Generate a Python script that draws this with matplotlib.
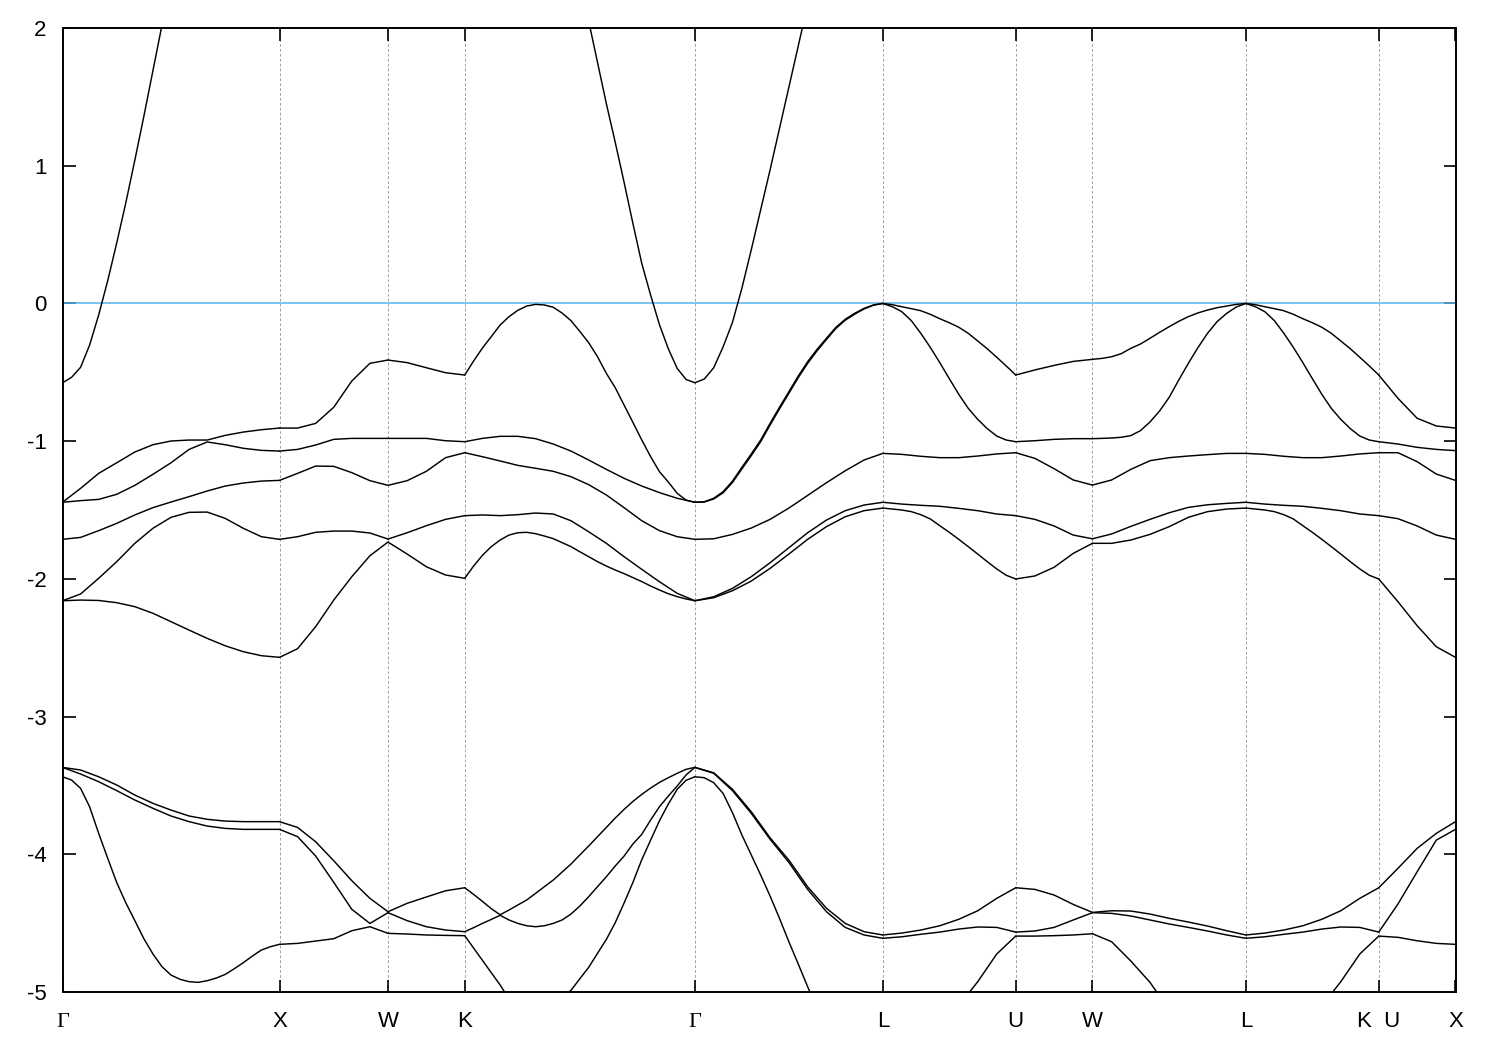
import numpy as np
import matplotlib
matplotlib.use("Agg")
import matplotlib.pyplot as plt

# ---------------- data ----------------
POINT_LABELS = ["Γ", "X", "W", "K", "Γ", "L", "U", "W", "L", "K  U", "X"]
# path segment lengths (units of 2*pi/a): G-X, X-W, W-K, K-G, G-L, L-U, U-W, W-L, L-K, U-X
SEG_LENGTHS = [1.0, 0.5, 0.35355, 1.06066, 0.86603, 0.61237, 0.35355, 0.70711, 0.61237, 0.35355]
Y_TICKS = [-5, -4, -3, -2, -1, 0, 1, 2]
Y_TICK_LABELS = ["-5", "-4", "-3", "-2", "-1", "0", "1", "2"]
E_FERMI = 0.0

# energies (eV) per band; one list per path segment, evenly spaced in k, endpoints included
BAND_1 = [
    [-3.437, -3.461, -3.521, -3.655, -3.848, -4.029, -4.206, -4.352, -4.482, -4.613, -4.724, -4.816, -4.877,
     -4.908, -4.925, -4.930, -4.918, -4.899, -4.872, -4.831, -4.787, -4.739, -4.695, -4.671, -4.654],
    [-4.654, -4.647, -4.630, -4.613, -4.555, -4.526, -4.574],
    [-4.574, -4.579, -4.586, -4.589, -4.591],
    [-4.591, -4.681, -4.770, -4.860, -4.949, -5.05, -5.11, -5.15, -5.17, -5.15, -5.11, -5.04, -4.988, -4.904,
     -4.821, -4.719, -4.618, -4.497, -4.354, -4.204, -4.039, -3.897, -3.756, -3.635, -3.528, -3.463, -3.437],
    [-3.437, -3.444, -3.480, -3.558, -3.698, -3.860, -4.005, -4.151, -4.303, -4.465, -4.635, -4.797, -4.962,
     -5.12, -5.25, -5.36, -5.45, -5.52, -5.56, -5.59, -5.6],
    [-5.6, -5.58, -5.5, -5.38, -5.1, -4.925, -4.724, -4.594],
    [-4.594, -4.594, -4.591, -4.586, -4.577],
    [-4.577, -4.635, -4.775, -4.930, -5.13, -5.3, -5.45, -5.55, -5.6],
    [-5.6, -5.58, -5.5, -5.38, -5.1, -4.925, -4.724, -4.594],
    [-4.594, -4.603, -4.628, -4.647, -4.654],
]
BAND_2 = [
    [-3.369, -3.417, -3.473, -3.538, -3.606, -3.666, -3.722, -3.763, -3.795, -3.812, -3.819, -3.819, -3.819],
    [-3.819, -3.872, -4.013, -4.204, -4.400, -4.502, -4.424],
    [-4.424, -4.482, -4.526, -4.550, -4.562],
    [-4.562, -4.533, -4.502, -4.473, -4.443, -4.477, -4.502, -4.519, -4.526, -4.519, -4.502, -4.477, -4.434,
     -4.376, -4.308, -4.235, -4.163, -4.085, -4.013, -3.925, -3.855, -3.751, -3.654, -3.577, -3.504, -3.424, -3.369],
    [-3.369, -3.412, -3.538, -3.703, -3.891, -4.059, -4.255, -4.417, -4.531, -4.586, -4.610],
    [-4.610, -4.599, -4.581, -4.565, -4.543, -4.528, -4.531, -4.565],
    [-4.565, -4.557, -4.531, -4.477, -4.424],
    [-4.424, -4.429, -4.448, -4.477, -4.506, -4.531, -4.557, -4.586, -4.610],
    [-4.610, -4.599, -4.581, -4.565, -4.543, -4.528, -4.531, -4.565],
    [-4.565, -4.361, -4.127, -3.897, -3.819],
]
BAND_3 = [
    [-3.369, -3.388, -3.437, -3.497, -3.570, -3.630, -3.679, -3.722, -3.746, -3.759, -3.763, -3.763, -3.763],
    [-3.763, -3.805, -3.909, -4.047, -4.192, -4.320, -4.417],
    [-4.417, -4.356, -4.310, -4.265, -4.243],
    [-4.243, -4.291, -4.342, -4.395, -4.439, -4.405, -4.368, -4.332, -4.284, -4.235, -4.187, -4.129, -4.071,
     -4.005, -3.940, -3.872, -3.805, -3.737, -3.674, -3.616, -3.565, -3.519, -3.478, -3.444, -3.412, -3.383, -3.369],
    [-3.369, -3.408, -3.528, -3.691, -3.880, -4.042, -4.236, -4.392, -4.502, -4.562, -4.586],
    [-4.586, -4.572, -4.550, -4.519, -4.472, -4.410, -4.320, -4.243],
    [-4.243, -4.255, -4.296, -4.364, -4.422],
    [-4.422, -4.410, -4.412, -4.434, -4.465, -4.492, -4.521, -4.555, -4.586],
    [-4.586, -4.572, -4.550, -4.519, -4.472, -4.410, -4.320, -4.243],
    [-4.243, -4.102, -3.957, -3.848, -3.763],
]
BAND_4 = [
    [-2.159, -2.154, -2.157, -2.173, -2.202, -2.250, -2.311, -2.372, -2.432, -2.486, -2.529, -2.558, -2.570],
    [-2.570, -2.507, -2.347, -2.154, -1.984, -1.832, -1.733],
    [-1.733, -1.820, -1.912, -1.972, -1.996],
    [-1.996, -1.907, -1.829, -1.766, -1.718, -1.682, -1.665, -1.662, -1.672, -1.689, -1.708, -1.737, -1.766,
     -1.803, -1.839, -1.875, -1.907, -1.936, -1.962, -1.991, -2.020, -2.052, -2.081, -2.108, -2.129, -2.146, -2.159],
    [-2.159, -2.137, -2.086, -2.016, -1.924, -1.820, -1.713, -1.621, -1.549, -1.505, -1.486],
    [-1.486, -1.493, -1.500, -1.512, -1.534, -1.565, -1.614, -1.662, -1.713, -1.766, -1.820, -1.875, -1.928,
     -1.974, -2.001],
    [-2.001, -1.979, -1.916, -1.815, -1.742],
    [-1.742, -1.742, -1.718, -1.677, -1.621, -1.553, -1.512, -1.493, -1.486],
    [-1.486, -1.493, -1.500, -1.512, -1.534, -1.565, -1.614, -1.662, -1.713, -1.766, -1.820, -1.875, -1.928,
     -1.974, -2.001],
    [-2.001, -2.166, -2.340, -2.493, -2.570],
]
BAND_5 = [
    [-2.159, -2.110, -1.996, -1.875, -1.742, -1.633, -1.553, -1.517, -1.515, -1.561, -1.633, -1.694, -1.713],
    [-1.713, -1.694, -1.662, -1.653, -1.653, -1.667, -1.711],
    [-1.711, -1.665, -1.614, -1.568, -1.541],
    [-1.541, -1.536, -1.541, -1.534, -1.522, -1.529, -1.578, -1.658, -1.742, -1.839, -1.931, -2.021, -2.105, -2.159],
    [-2.159, -2.130, -2.069, -1.984, -1.883, -1.774, -1.665, -1.573, -1.505, -1.464, -1.444],
    [-1.444, -1.457, -1.466, -1.473, -1.488, -1.505, -1.529, -1.541],
    [-1.541, -1.568, -1.616, -1.682, -1.709],
    [-1.709, -1.674, -1.619, -1.568, -1.520, -1.481, -1.462, -1.452, -1.444],
    [-1.444, -1.457, -1.466, -1.473, -1.488, -1.505, -1.529, -1.541],
    [-1.541, -1.563, -1.616, -1.682, -1.713],
]
BAND_6 = [
    [-1.713, -1.699, -1.650, -1.597, -1.536, -1.483, -1.442, -1.403, -1.362, -1.326, -1.304, -1.290, -1.285],
    [-1.285, -1.234, -1.181, -1.183, -1.229, -1.287, -1.321],
    [-1.321, -1.287, -1.219, -1.120, -1.084],
    [-1.084, -1.113, -1.144, -1.176, -1.197, -1.219, -1.258, -1.316, -1.391, -1.483, -1.578, -1.650, -1.694, -1.713],
    [-1.713, -1.709, -1.677, -1.631, -1.568, -1.486, -1.394, -1.302, -1.215, -1.137, -1.089],
    [-1.089, -1.096, -1.110, -1.120, -1.120, -1.108, -1.093, -1.084],
    [-1.084, -1.125, -1.200, -1.282, -1.319],
    [-1.319, -1.282, -1.205, -1.142, -1.120, -1.108, -1.098, -1.089, -1.089],
    [-1.089, -1.096, -1.110, -1.120, -1.120, -1.108, -1.093, -1.084],
    [-1.084, -1.084, -1.149, -1.239, -1.285],
]
BAND_7 = [
    [-1.444, -1.432, -1.423, -1.386, -1.321, -1.241, -1.157, -1.060, -1.006, -1.026, -1.052, -1.067, -1.072],
    [-1.072, -1.060, -1.028, -0.987, -0.980, -0.980, -0.980],
    [-0.980, -0.980, -0.980, -0.997, -1.004],
    [-1.004, -0.980, -0.965, -0.965, -0.982, -1.021, -1.072, -1.137, -1.205, -1.270, -1.326, -1.374, -1.415, -1.444],
    [-1.444, -1.442, -1.420, -1.375, -1.300, -1.202, -1.105, -1.004, -0.883, -0.766, -0.653, -0.539, -0.435,
     -0.344, -0.262, -0.182, -0.122, -0.078, -0.040, -0.013, 0.0],
    [0.0, -0.024, -0.060, -0.125, -0.217, -0.319, -0.430, -0.546, -0.660, -0.762, -0.842, -0.909, -0.963,
     -0.992, -1.004],
    [-1.004, -0.997, -0.987, -0.982, -0.982],
    [-0.982, -0.980, -0.977, -0.972, -0.960, -0.924, -0.861, -0.781, -0.682, -0.556, -0.435, -0.321, -0.217,
     -0.132, -0.072, -0.026, 0.0],
    [0.0, -0.024, -0.060, -0.125, -0.217, -0.319, -0.430, -0.546, -0.660, -0.762, -0.842, -0.909, -0.963,
     -0.992, -1.004],
    [-1.004, -1.021, -1.045, -1.060, -1.069],
]
BAND_8 = [
    [-1.444, -1.343, -1.234, -1.157, -1.079, -1.026, -0.999, -0.992, -0.992, -0.958, -0.934, -0.917, -0.905],
    [-0.905, -0.905, -0.871, -0.754, -0.563, -0.435, -0.411],
    [-0.411, -0.430, -0.467, -0.503, -0.520],
    [-0.520, -0.418, -0.324, -0.241, -0.157, -0.096, -0.050, -0.019, -0.007, -0.011, -0.028, -0.070, -0.125,
     -0.203, -0.285, -0.387, -0.508, -0.612, -0.738, -0.864, -0.992, -1.113, -1.222, -1.297, -1.379, -1.428, -1.444],
    [-1.444, -1.440, -1.415, -1.367, -1.290, -1.190, -1.093, -0.992, -0.871, -0.754, -0.641, -0.527, -0.423,
     -0.333, -0.253, -0.174, -0.115, -0.072, -0.036, -0.011, 0.0],
    [0.0, -0.009, -0.024, -0.038, -0.053, -0.079, -0.111, -0.140, -0.173, -0.217, -0.273, -0.329, -0.391,
     -0.454, -0.520],
    [-0.520, -0.483, -0.450, -0.421, -0.406],
    [-0.406, -0.399, -0.387, -0.365, -0.326, -0.295, -0.253, -0.210, -0.169, -0.130, -0.096, -0.069, -0.048,
     -0.031, -0.019, -0.007, 0.0],
    [0.0, -0.009, -0.024, -0.038, -0.053, -0.079, -0.111, -0.140, -0.173, -0.217, -0.273, -0.329, -0.391,
     -0.454, -0.520],
    [-0.520, -0.689, -0.834, -0.890, -0.905],
]
BAND_9 = [
    [-0.576, -0.537, -0.464, -0.302, -0.084, 0.165, 0.44, 0.73, 1.04, 1.36, 1.69, 2.02, 2.36,
     2.7, 3.0, 3.3, 3.6, 3.85, 4.1, 4.3, 4.5, 4.65, 4.8, 4.9, 5.0],
    [5.0, 5.2, 5.4, 5.5, 5.6, 5.6, 5.5],
    [5.5, 5.3, 5.1, 4.95, 4.8],
    [4.8, 4.75, 4.7, 4.6, 4.5, 4.35, 4.2, 4.0, 3.8, 3.5, 3.25, 2.95, 2.65, 2.35,
     2.05, 1.75, 1.45, 1.17, 0.88, 0.58, 0.29, 0.06, -0.155, -0.33, -0.472, -0.552, -0.576],
    [-0.576, -0.549, -0.467, -0.316, -0.137, 0.11, 0.39, 0.68, 0.97, 1.27, 1.57, 1.87, 2.17,
     2.45, 2.7, 2.95, 3.2, 3.4, 3.6, 3.75, 3.9],
    [3.9, 4.0, 4.1, 4.2, 4.3, 4.4, 4.5, 4.6],
    [4.6, 4.7, 4.8, 4.8, 4.8],
    [4.8, 4.6, 4.4, 4.2, 4.0, 3.95, 3.9, 3.9, 3.9],
    [3.9, 4.0, 4.1, 4.2, 4.3, 4.4, 4.5, 4.6],
    [4.6, 4.8, 4.9, 5.0, 5.0],
]
BANDS = [BAND_1, BAND_2, BAND_3, BAND_4, BAND_5, BAND_6, BAND_7, BAND_8, BAND_9]

# ---------------- plot ----------------
plt.rcParams['font.family'] = ['Liberation Sans', 'DejaVu Sans']
plt.rcParams['axes.unicode_minus'] = False

W, H = 1500, 1050
fig = plt.figure(figsize=(W / 100, H / 100), dpi=100)
L_PX, R_PX, T_PX, B_PX = 62.5, 1455.5, 28, 992
ax = fig.add_axes([L_PX / W, 1 - B_PX / H, (R_PX - L_PX) / W, (B_PX - T_PX) / H])

k_ticks = np.concatenate([[0.0], np.cumsum(SEG_LENGTHS)])

for band in BANDS:
    for s, seg_vals in enumerate(band):
        k = np.linspace(k_ticks[s], k_ticks[s + 1], len(seg_vals))
        ax.plot(k, seg_vals, color='black', lw=1.05, solid_joinstyle='round',
                solid_capstyle='round', zorder=3)

ax.axhline(E_FERMI, color='#56b4e9', lw=1.1, zorder=2)
for t in k_ticks[1:-1]:
    ax.axvline(t, color='#a0a0a0', lw=0.72, ls=(0, (2.7, 2.2)), zorder=1)

ax.set_xlim(k_ticks[0], k_ticks[-1])
ax.set_ylim(-5, 2)
ax.set_xticks(k_ticks)
ax.set_xticklabels(POINT_LABELS)
ax.set_yticks(Y_TICKS)
ax.set_yticklabels(Y_TICK_LABELS)
ax.tick_params(axis='both', direction='in', length=9, width=1.2, top=True, right=True,
               labelsize=16, colors='black')
ax.tick_params(axis='x', pad=25.5)
ax.tick_params(axis='y', pad=11.5)
for lab in ax.get_xticklabels():
    lab.set_verticalalignment('baseline')
    if lab.get_text() == "Γ":
        lab.set_fontfamily(['Liberation Serif', 'DejaVu Serif'])
for sp in ax.spines.values():
    sp.set_linewidth(1.4)

fig.savefig('out.png', dpi=100)
